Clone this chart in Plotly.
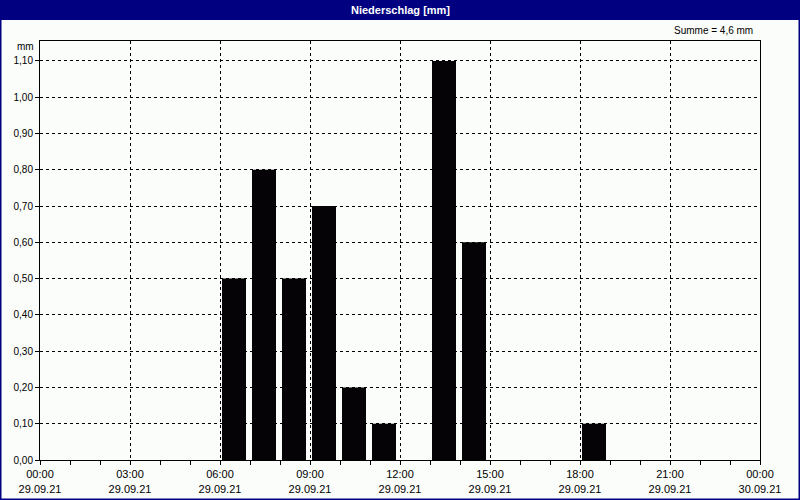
import plotly.graph_objects as go

# ---- data ----
hours = ["2021-09-29 06:00", "2021-09-29 07:00", "2021-09-29 08:00", "2021-09-29 09:00",
         "2021-09-29 10:00", "2021-09-29 11:00", "2021-09-29 13:00", "2021-09-29 14:00",
         "2021-09-29 18:00"]
precip_mm = [0.5, 0.8, 0.5, 0.7, 0.2, 0.1, 1.1, 0.6, 0.1]
tick_times = ["2021-09-29 00:00", "2021-09-29 03:00", "2021-09-29 06:00", "2021-09-29 09:00",
              "2021-09-29 12:00", "2021-09-29 15:00", "2021-09-29 18:00", "2021-09-29 21:00",
              "2021-09-30 00:00"]
tick_labels = ["00:00<br>29.09.21", "03:00<br>29.09.21", "06:00<br>29.09.21", "09:00<br>29.09.21",
               "12:00<br>29.09.21", "15:00<br>29.09.21", "18:00<br>29.09.21", "21:00<br>29.09.21",
               "00:00<br>30.09.21"]
y_ticks = [0.0, 0.1, 0.2, 0.3, 0.4, 0.5, 0.6, 0.7, 0.8, 0.9, 1.0, 1.1]

W, H = 800, 500
ML, MR, MT, MB = 40, 40, 41, 40
PW, PH = W - ML - MR, H - MT - MB
FONT = "Liberation Sans Narrow, Arial Narrow, Liberation Sans, sans-serif"
NAVY = "#000080"


def px_x(p):
    return (p - ML) / PW


def px_y(p):
    return (H - MB - p) / PH


HOUR_MS = 3600000

fig = go.Figure()
fig.add_trace(go.Bar(
    x=hours, y=precip_mm,
    offset=HOUR_MS * 2 / 30, width=HOUR_MS * 24 / 30,
    marker=dict(color="#050305", line=dict(width=0)),
    showlegend=False,
))

total = sum(precip_mm)

fig.update_layout(
    width=W, height=H,
    margin=dict(l=ML, r=MR, t=MT, b=MB, autoexpand=False),
    paper_bgcolor="#FBFDFB", plot_bgcolor="#FBFDFB",
    separators=",.",
    font=dict(family=FONT, size=10, color="black"),
    xaxis=dict(
        type="date", automargin=False,
        range=["2021-09-29 00:00", "2021-09-30 00:00"],
        tickmode="array", tickvals=tick_times, ticktext=tick_labels,
        ticks="outside", ticklen=4, tickcolor="black",
        minor=dict(dtick=HOUR_MS, ticks="outside", ticklen=4, tickcolor="black", showgrid=False),
        showgrid=True, gridcolor="black", griddash="3px,3px", gridwidth=1,
        showline=True, linecolor="black", linewidth=1, mirror=True,
        tickfont=dict(family=FONT, size=11),
        zeroline=False,
    ),
    yaxis=dict(
        automargin=False,
        range=[0, 1.155],
        tickmode="array", tickvals=y_ticks, tickformat=".2f",
        ticks="outside", ticklen=4, tickcolor="black",
        showgrid=True, gridcolor="black", griddash="3px,3px", gridwidth=1,
        showline=True, linecolor="black", linewidth=1, mirror=True,
        tickfont=dict(family=FONT, size=10),
        zeroline=False,
    ),
    shapes=[
        # title bar
        dict(type="rect", xref="paper", yref="paper",
             x0=px_x(0), x1=px_x(W), y0=px_y(20), y1=px_y(0),
             fillcolor=NAVY, line=dict(width=0), layer="above"),
        # outer border
        dict(type="rect", xref="paper", yref="paper",
             x0=px_x(0.75), x1=px_x(W - 0.75), y0=px_y(H - 0.75), y1=px_y(0),
             fillcolor="rgba(0,0,0,0)", line=dict(color=NAVY, width=1.5), layer="above"),
    ],
    annotations=[
        dict(text="<b>Niederschlag [mm]</b>", xref="paper", yref="paper",
             x=0.5, y=px_y(10), xanchor="center", yanchor="middle", showarrow=False,
             font=dict(family=FONT, size=11, color="white")),
        dict(text="Summe = " + f"{total:.1f}".replace(".", ",") + " mm",
             xref="paper", yref="paper", x=px_x(755), y=px_y(31),
             xanchor="right", yanchor="middle", showarrow=False,
             font=dict(family=FONT, size=10)),
        dict(text="mm", xref="paper", yref="paper", x=px_x(36), y=px_y(46),
             xanchor="right", yanchor="middle", showarrow=False,
             font=dict(family=FONT, size=10)),
    ],
)

fig.write_html("out.html", config={"displayModeBar": False},
               post_script="document.body.style.margin='0';document.body.style.overflow='hidden';")
